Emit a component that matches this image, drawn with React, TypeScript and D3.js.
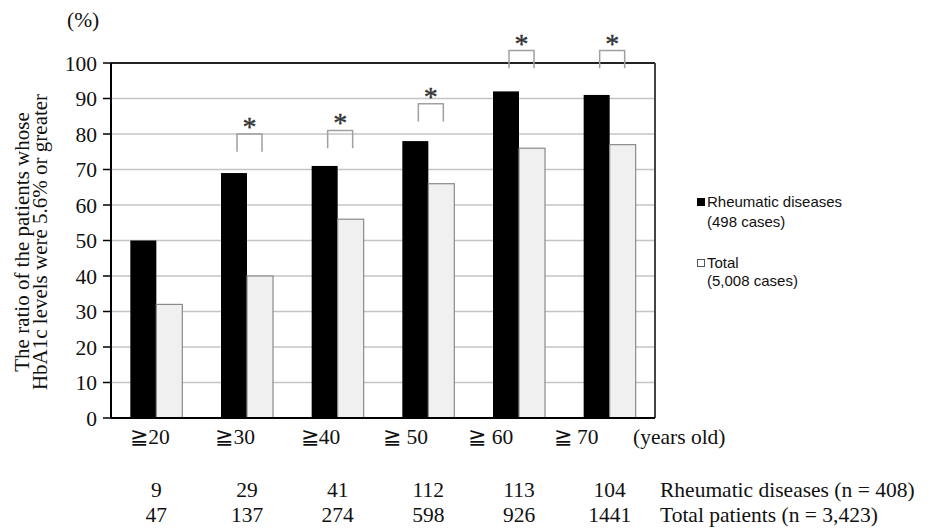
import React from "react";
import * as d3 from "d3";

const categories = ["≧20", "≧30", "≧40", "≧ 50", "≧ 60", "≧ 70"];
const rheumatic = [50, 69, 71, 78, 92, 91];
const total = [32, 40, 56, 66, 76, 77];
const rheumaticN = ["9", "29", "41", "112", "113", "104"];
const totalN = ["47", "137", "274", "598", "926", "1441"];
// significance brackets: [top value, leg bottom value]
const sigTop = [null, 80, 81, 88.5, 103.5, 103.5];
const sigBottom = [null, 75, 76, 83.5, 98.5, 98.5];
const yTicks = [0, 10, 20, 30, 40, 50, 60, 70, 80, 90, 100];

const W = 933;
const H = 528;
const left = 111;
const right = 655;
const top = 63;
const bottom = 418;
const serif = "'Liberation Serif', 'Times New Roman', serif";
const sans = "'Liberation Sans', Arial, sans-serif";
const fs = 21.5;

export default function App() {
  const x = d3.scaleBand<string>().domain(categories).range([left, right]).padding(0);
  const xl = d3.scalePoint<string>().domain(categories).range([150, 576]);
  const y = d3.scaleLinear().domain([0, 100]).range([bottom, top]);
  const bw = 26;

  return (
    <svg width={W} height={H} style={{ position: "absolute", left: 0, top: 0, background: "#fff" }}>
      <rect x={0} y={0} width={W} height={H} fill="#fff" />
      {/* gridlines */}
      {yTicks.filter((t) => t > 0 && t < 100).map((t) => (
        <line key={"g" + t} x1={left} x2={right} y1={y(t)} y2={y(t)} stroke="#c4c4c4" strokeWidth={1.5} />
      ))}
      {/* bars */}
      {categories.map((c, i) => {
        const cx = (x(c) as number) + x.bandwidth() / 2;
        return (
          <g key={"b" + c}>
            <rect x={cx - bw} y={y(rheumatic[i])} width={bw} height={bottom - y(rheumatic[i])} fill="#000" />
            <rect x={cx} y={y(total[i])} width={bw} height={bottom - y(total[i])} fill="#f0f0f0" stroke="#8a8a8a" strokeWidth={1.2} />
          </g>
        );
      })}
      {/* plot frame */}
      <line x1={left} x2={right} y1={top} y2={top} stroke="#222" strokeWidth={2} />
      <line x1={right} x2={right} y1={top} y2={bottom} stroke="#444" strokeWidth={2} />
      <line x1={left} x2={left} y1={top} y2={bottom} stroke="#000" strokeWidth={2} />
      <line x1={left} x2={right} y1={bottom} y2={bottom} stroke="#000" strokeWidth={2} />
      {/* y ticks */}
      {yTicks.map((t) => (
        <g key={"t" + t}>
          <line x1={103} x2={left} y1={y(t)} y2={y(t)} stroke="#000" strokeWidth={1.5} />
          <text x={97} y={y(t)} dy="0.35em" textAnchor="end" fontFamily={serif} fontSize={fs} fill="#111">
            {t}
          </text>
        </g>
      ))}
      {/* significance brackets */}
      {categories.map((c, i) => {
        const tv = sigTop[i];
        const bv = sigBottom[i];
        if (tv === null || bv === null) return null;
        const cx = (x(c) as number) + x.bandwidth() / 2;
        const x1 = cx - 10;
        const x2 = cx + 15;
        return (
          <g key={"s" + c}>
            <path d={`M${x1},${y(bv)}V${y(tv)}H${x2}V${y(bv)}`} fill="none" stroke="#a0a0a0" strokeWidth={1.5} />
            <text x={cx + 2.5} y={y(tv) + 2} textAnchor="middle" fontFamily={serif} fontSize={28} fill="#333" stroke="#333" strokeWidth={0.4}>
              *
            </text>
          </g>
        );
      })}
      {/* x labels */}
      {categories.map((c) => (
        <text key={"x" + c} x={xl(c)} y={444} textAnchor="middle" fontFamily={serif} fontSize={fs} fill="#111">
          {c}
        </text>
      ))}
      <text x={633} y={444} fontFamily={serif} fontSize={fs} fill="#111">(years old)</text>
      {/* counts rows */}
      {categories.map((c, i) => {
        const cx = (x(c) as number) + x.bandwidth() / 2;
        return (
          <g key={"n" + c}>
            <text x={cx} y={497} textAnchor="middle" fontFamily={serif} fontSize={fs} fill="#111">{rheumaticN[i]}</text>
            <text x={cx} y={522} textAnchor="middle" fontFamily={serif} fontSize={fs} fill="#111">{totalN[i]}</text>
          </g>
        );
      })}
      <text x={660} y={497} fontFamily={serif} fontSize={fs} fill="#111">Rheumatic diseases (n = 408)</text>
      <text x={660} y={522} fontFamily={serif} fontSize={fs} fill="#111">Total patients (n = 3,423)</text>
      {/* (%) */}
      <text x={67} y={27} fontFamily={serif} fontSize={fs} fill="#111">(%)</text>
      {/* y title */}
      <g transform="translate(29,242) rotate(-90)">
        <text x={0} y={0} textAnchor="middle" fontFamily={serif} fontSize={21} fill="#111">The ratio of the patients whose</text>
        <text x={0} y={18} textAnchor="middle" fontFamily={serif} fontSize={21} fill="#111">HbA1c levels were 5.6% or greater</text>
      </g>
      {/* legend */}
      <rect x={697} y={198} width={8} height={8} fill="#000" />
      <text x={707} y={207} fontFamily={sans} fontSize={15} fill="#111">Rheumatic diseases</text>
      <text x={707} y={227} fontFamily={sans} fontSize={15} fill="#111">(498 cases)</text>
      <rect x={697.5} y={259.5} width={7} height={7} fill="#fff" stroke="#555" strokeWidth={1} />
      <text x={707} y={268} fontFamily={sans} fontSize={15} fill="#111">Total</text>
      <text x={707} y={286} fontFamily={sans} fontSize={15} fill="#111">(5,008 cases)</text>
    </svg>
  );
}
